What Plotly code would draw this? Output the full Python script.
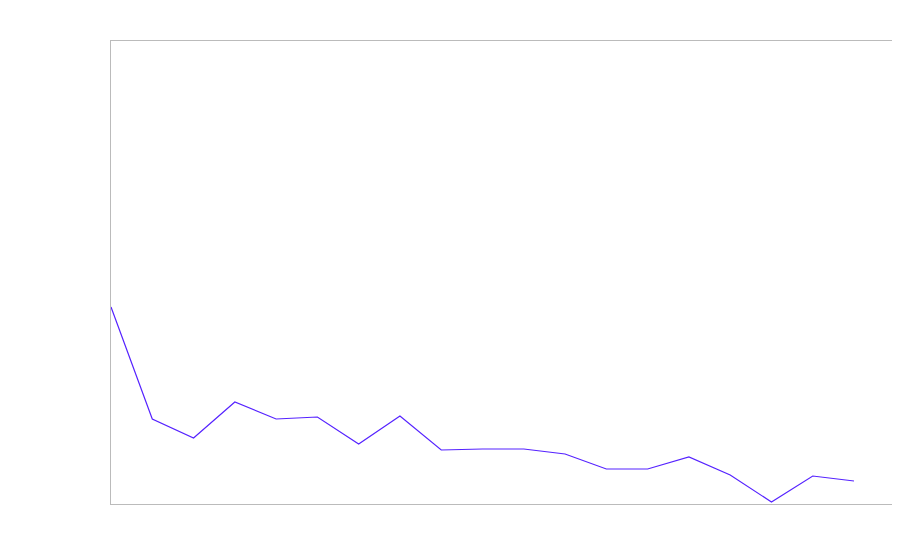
import plotly.graph_objects as go

x_index = list(range(19))
values = [197, 85, 66, 102, 85, 87, 60, 88, 54, 55, 55, 50, 35, 35, 47, 29, 2, 28, 23]

fig = go.Figure()
fig.add_trace(go.Scatter(x=x_index, y=values, mode="lines",
                         line=dict(color="#5522ff", width=1.2), hoverinfo="skip"))
fig.update_layout(
    width=900, height=560,
    margin=dict(l=103, r=16, t=33, b=64),
    paper_bgcolor="white", plot_bgcolor="white",
    showlegend=False,
)
axis_style = dict(showgrid=False, zeroline=False, showticklabels=False, ticks="",
                  showline=True, mirror=True, linecolor="#bbbbbb", linewidth=1)
fig.update_xaxes(range=[0, 18.92], **axis_style)
fig.update_yaxes(range=[0, 463], **axis_style)
fig.write_html("out.html")
